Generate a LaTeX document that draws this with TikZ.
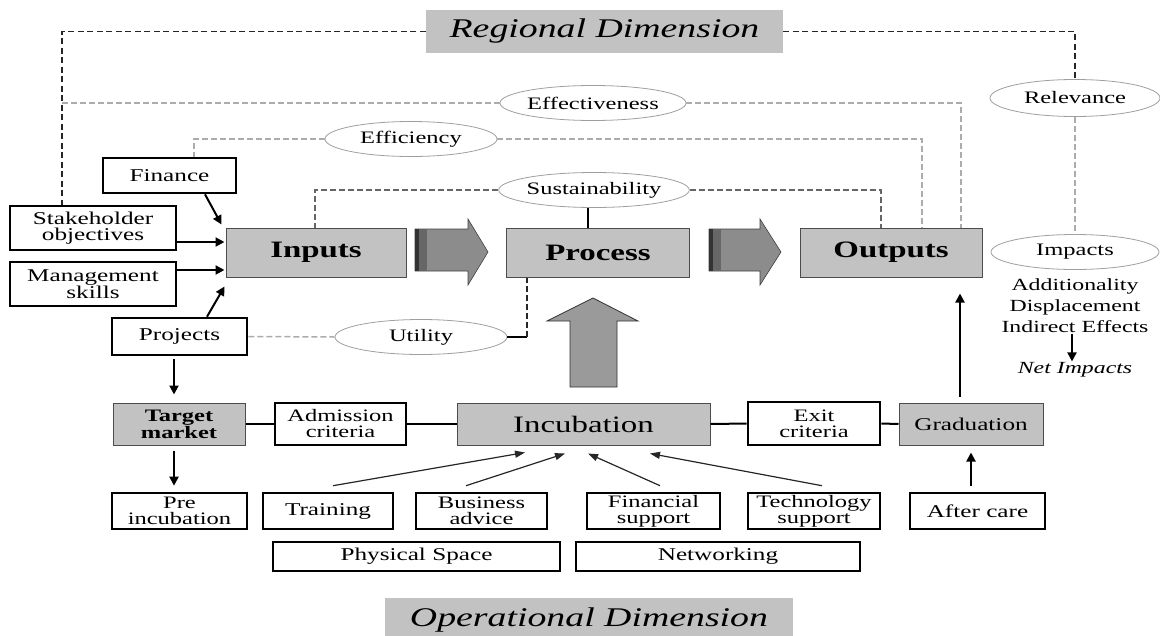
\documentclass[tikz,border=0pt]{standalone}
\usepackage{fontspec}
\setmainfont{Liberation Serif}[FakeStretch=1.4]
\usetikzlibrary{shapes.geometric,arrows.meta,calc}
\definecolor{boxgray}{HTML}{C2C2C2}
\definecolor{arrgray}{HTML}{8C8C8C}
\definecolor{upgray}{HTML}{9A9A9A}
\newcommand{\bxf}{\fontsize{18}{16.5}\selectfont}
\newcommand{\twof}{\fontsize{17.5}{16}\selectfont}
\newcommand{\elf}{\fontsize{17.5}{18}\selectfont}
\begin{document}
\begin{tikzpicture}[x=1pt,y=-1pt,
  wbox/.style={draw=black,line width=2.6pt,fill=white,inner sep=0pt,align=center,font=\bxf},
  gbox/.style={draw=gray!60!black,line width=1pt,fill=boxgray,inner sep=0pt,align=center},
  ell/.style={ellipse,draw=gray!75,line width=0.8pt,fill=white,inner sep=0pt,font=\elf},
  titlebox/.style={fill=boxgray,inner sep=0pt,font=\fontsize{27}{30}\selectfont\itshape},
  regdash/.style={draw=black!85,line width=1.6pt,dash pattern=on 6pt off 3.5pt},
  effdash/.style={draw=gray!65,line width=1.5pt,dash pattern=on 6pt off 3pt},
  susdash/.style={draw=black!60,line width=1.3pt,dash pattern=on 6pt off 3pt},
  blkarr/.style={draw=black,line width=2pt,-{Triangle[length=9pt,width=9pt]}},
  thinarr/.style={draw=black!85,line width=1.2pt,-{Triangle[length=10pt,width=7pt]}},
  plain/.style={inner sep=1pt,font=\fontsize{17}{18}\selectfont}]
\useasboundingbox (0,0) rectangle (1160,635);

% title boxes
\node[titlebox,minimum width=357pt,minimum height=43pt] (rd) at (604.5,31.5) {Regional Dimension};
\node[titlebox,minimum width=408pt,minimum height=44pt] (od) at (589,620) {Operational Dimension};

% ellipses
\node[ell,minimum width=170pt,minimum height=37pt] (rel) at (1075,98) {Relevance};
\node[ell,minimum width=170pt,minimum height=35pt] (effv) at (593,103) {Effectiveness};
\node[ell,minimum width=172pt,minimum height=35pt] (effc) at (411,139) {Efficiency};
\node[ell,minimum width=172pt,minimum height=35pt] (sus) at (594,190) {Sustainability};
\node[ell,minimum width=172pt,minimum height=35pt] (util) at (421,337) {Utility};
\node[ell,minimum width=168pt,minimum height=35pt] (imp) at (1075,252) {Impacts};

% left input boxes
\node[wbox,minimum width=133pt,minimum height=35pt] (fin) at (169.5,175.5) {Finance};
\node[wbox,minimum width=166pt,minimum height=44pt] (stake) at (93,228) {Stakeholder\\objectives};
\node[wbox,minimum width=166pt,minimum height=44pt] (mgmt) at (93,284) {Management\\skills};
\node[wbox,minimum width=135pt,minimum height=37pt] (proj) at (179.5,336.5) {Projects};

% main process boxes
\node[gbox,minimum width=180pt,minimum height=49pt,font=\fontsize{23.5}{24}\selectfont\bfseries] (inp) at (316,252.5) {Inputs};
\node[gbox,minimum width=183pt,minimum height=49pt,font=\fontsize{23.5}{24}\selectfont\bfseries] (proc) at (598,252.5) {Process};
\node[gbox,minimum width=182pt,minimum height=49pt,font=\fontsize{23.5}{24}\selectfont\bfseries] (out) at (891,252.5) {Outputs};

% impacts text
\node[plain] (add) at (1075,286) {Additionality};
\node[plain] (disp) at (1075,307) {Displacement};
\node[plain] (ind) at (1075,327) {Indirect Effects};
\node[plain,font=\fontsize{17}{18}\selectfont\itshape] (net) at (1075,370) {Net Impacts};

% bottom row
\node[gbox,minimum width=132pt,minimum height=42pt,font=\fontsize{17.5}{16}\selectfont\bfseries] (tgt) at (179,424) {Target\\market};
\node[wbox,minimum width=131pt,minimum height=42pt,font=\twof] (adm) at (340.5,424) {Admission\\criteria};
\node[gbox,minimum width=253pt,minimum height=42pt,font=\fontsize{23.5}{24}\selectfont] (inc) at (583.5,424) {Incubation};
\node[wbox,minimum width=132pt,minimum height=43pt,font=\twof] (exit) at (814,423.5) {Exit\\criteria};
\node[gbox,minimum width=144pt,minimum height=42pt,font=\fontsize{18}{18}\selectfont] (grad) at (971,424) {Graduation};

\node[wbox,minimum width=135pt,minimum height=36pt,font=\twof] (pre) at (179.5,511) {Pre\\incubation};
\node[wbox,minimum width=130pt,minimum height=36pt] (train) at (328,511) {Training};
\node[wbox,minimum width=131pt,minimum height=36pt,font=\twof] (bus) at (481.5,511) {Business\\advice};
\node[wbox,minimum width=133pt,minimum height=36pt,font=\twof] (fsup) at (653.5,511) {Financial\\support};
\node[wbox,minimum width=132pt,minimum height=36pt,font=\twof] (tech) at (814,511) {Technology\\support};
\node[wbox,minimum width=135pt,minimum height=36pt] (aft) at (977.5,511) {After care};
\node[wbox,minimum width=287pt,minimum height=29pt] (phys) at (416.5,556.5) {Physical Space};
\node[wbox,minimum width=284pt,minimum height=29pt] (netw) at (718,556.5) {Networking};

% regional dashed frame
\coordinate (vl) at ([xshift=-31pt]stake.north);
\draw[regdash] (rd.west) -| (vl);
\draw[regdash] (rd.east) -| (rel.north);
\draw[effdash] (rel.south) -- (rel.south |- imp.north);

% effectiveness / efficiency / sustainability
\draw[effdash] (effv.west) -- (effv.west -| vl);
\draw[effdash] (effv.east) -| ([xshift=70pt]out.north);
\draw[effdash] (effc.west) -| ([xshift=24.5pt]fin.north);
\draw[effdash] (effc.east) -| ([xshift=31pt]out.north);
\draw[susdash] (sus.west) -| ([xshift=-1pt]inp.north);
\draw[susdash] (sus.east) -| ([xshift=-10pt]out.north);
\draw[line width=2pt] ([xshift=-6pt]sus.south) -- ([xshift=-6pt]sus.south |- proc.north);

% utility
\coordinate (uc) at ([xshift=-71pt]proc.south);
\draw[effdash] (proj.east) -- (util.west);
\draw[line width=1.6pt] (util.east) -- (util.east -| uc);
\draw[susdash,draw=black!85] (util.east -| uc) -- (uc);

% arrows into inputs
\draw[blkarr] ([xshift=35.5pt]fin.south) -- ([xshift=-4pt,yshift=3pt]inp.north west);
\draw[blkarr] ([yshift=-14pt]stake.east) -- ([yshift=-14pt,xshift=-1pt]stake.east -| inp.west);
\draw[blkarr] ([yshift=14pt]mgmt.east) -- ([yshift=14pt,xshift=-1pt]mgmt.east -| inp.west);
\draw[blkarr] ([xshift=27.5pt]proj.north) -- ([xshift=-1pt,yshift=-9pt]inp.south west);

% block arrows
\fill[arrgray,draw=gray!50!black,line width=0.6pt] (415,229) -- (468,229) -- (468,219) -- (488,252) -- (468,285) -- (468,271) -- (415,271) -- cycle;
\fill[black!80] (415,229) rectangle (418.5,271);
\fill[black!60] (418.5,229) rectangle (427,271);
\fill[arrgray,draw=gray!50!black,line width=0.6pt] (709,229) -- (760,229) -- (760,219) -- (781,252) -- (760,285) -- (760,271) -- (709,271) -- cycle;
\fill[black!80] (709,229) rectangle (712.5,271);
\fill[black!60] (712.5,229) rectangle (721,271);
\fill[upgray,draw=gray!40!black,line width=0.8pt] (570,387) -- (570,321) -- (547,321) -- (593,298) -- (638,321) -- (617,321) -- (617,387) -- cycle;

% graduation to outputs, after care to graduation
\draw[blkarr] ([xshift=-11pt,yshift=6pt]grad.north) -- ([xshift=69pt,yshift=-16pt]out.south);
\draw[blkarr] ([xshift=-6.5pt,yshift=6pt]aft.north) -- ([yshift=-7pt]grad.south);

% projects -> target -> pre
\draw[blkarr] ([xshift=-5.5pt,yshift=-3pt]proj.south) -- ([xshift=-5pt,yshift=8pt]tgt.north);
\draw[blkarr] ([xshift=-5pt,yshift=-5pt]tgt.south) -- ([xshift=-5.5pt,yshift=6pt]pre.north);

% impacts arrow
\draw[blkarr] ([xshift=-3pt]ind.south) -- ([xshift=-3pt]net.north);

% bottom connections
\draw[line width=2pt] (tgt.east) -- (adm.west);
\draw[line width=2pt] (adm.east) -- (inc.west);
\draw[line width=2pt] (inc.east) -- (exit.west);
\draw[line width=2pt] (exit.east) -- (grad.west);

% thin arrows into incubation
\draw[thinarr] ([xshift=5pt,yshift=6pt]train.north) -- ([xshift=-58.5pt,yshift=-7pt]inc.south);
\draw[thinarr] ([xshift=-15.5pt,yshift=6pt]bus.north) -- ([xshift=-18.5pt,yshift=-8pt]inc.south);
\draw[thinarr] ([xshift=6.5pt,yshift=6pt]fsup.north) -- ([xshift=4.5pt,yshift=-8pt]inc.south);
\draw[thinarr] ([xshift=8pt,yshift=6pt]tech.north) -- ([xshift=66.5pt,yshift=-8pt]inc.south);
\end{tikzpicture}
\end{document}
